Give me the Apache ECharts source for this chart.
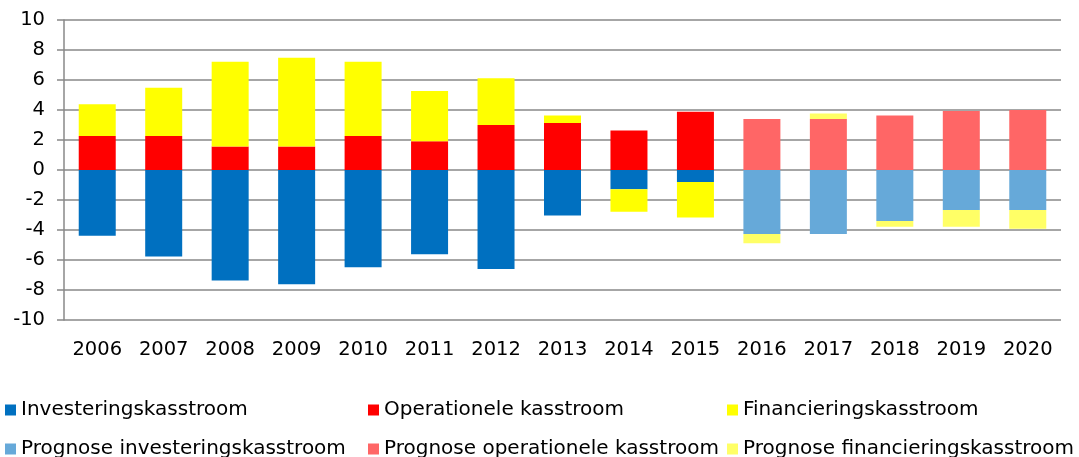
<!DOCTYPE html>
<html lang="nl">
<head>
    <meta charset="UTF-8">
    <title>Kasstromen</title>
    <style>
        html, body {margin: 0; padding: 0; background: #fff;}
        #main {width: 1079px; height: 457px;}
    </style>
</head>
<body>
<div id="main"></div>
<script src="https://cdn.jsdelivr.net/npm/echarts@6/dist/echarts.min.js"></script>
<script>
    // jaren
    let years = ['2006', '2007', '2008', '2009', '2010', '2011', '2012', '2013', '2014', '2015', '2016', '2017', '2018', '2019', '2020'];
    // gerealiseerd
    let investering = [-4.38, -5.76, -7.36, -7.62, -6.49, -5.62, -6.6, -3.04, -1.29, -0.8, null, null, null, null, null];
    let operationeel = [2.27, 2.27, 1.56, 1.56, 2.27, 1.91, 3.0, 3.13, 2.64, 3.89, null, null, null, null, null];
    let financiering = [2.11, 3.22, 5.66, 5.93, 4.95, 3.36, 3.11, 0.51, -1.49, -2.36, null, null, null, null, null];
    // prognose
    let progInvestering = [null, null, null, null, null, null, null, null, null, null, -4.27, -4.27, -3.4, -2.67, -2.67];
    let progOperationeel = [null, null, null, null, null, null, null, null, null, null, 3.4, 3.4, 3.64, 3.93, 4.0];
    let progFinanciering = [null, null, null, null, null, null, null, null, null, null, -0.62, 0.36, -0.38, -1.11, -1.24];
    let yTicks = [-10, -8, -6, -4, -2, 0, 2, 4, 6, 8, 10];

    let names = ['Investeringskasstroom', 'Operationele kasstroom', 'Financieringskasstroom',
        'Prognose investeringskasstroom', 'Prognose operationele kasstroom', 'Prognose financieringskasstroom'];
    let colors = ['#0070C0', '#FF0000', '#FFFF00', '#66A9D9', '#FF6666', '#FFFF66'];
    let values = [investering, operationeel, financiering, progInvestering, progOperationeel, progFinanciering];

    let legendFont = {fontFamily: 'DejaVu Sans', fontSize: 20, color: '#000'};
    let legendLeft = [5, 368, 727];
    let legendTop = [400, 439];

    let myChart = echarts.init(document.getElementById('main'));
    let option = {
        animation: false,
        color: colors,
        grid: {left: 64, right: 18, top: 20, height: 300},
        // elk legenda-item apart: drie kolommen, twee rijen
        legend: names.map((name, i) => ({
            left: legendLeft[i % 3],
            top: legendTop[Math.floor(i / 3)],
            icon: 'rect',
            itemWidth: 11,
            itemHeight: 11,
            itemGap: 0,
            padding: 0,
            textStyle: legendFont,
            data: [name]
        })),
        xAxis: {
            type: 'category',
            data: years,
            axisLine: {show: false},
            axisTick: {show: false},
            axisLabel: {color: '#000', fontSize: 19.5, fontFamily: 'DejaVu Sans', margin: 20}
        },
        yAxis: {
            type: 'value',
            min: yTicks[0],
            max: yTicks[yTicks.length - 1],
            interval: 2,
            axisLine: {show: true, lineStyle: {color: '#888', width: 1.5}},
            axisTick: {show: true, length: 7, lineStyle: {color: '#888', width: 1.5}},
            splitLine: {lineStyle: {color: '#888', width: 1.5}},
            axisLabel: {color: '#000', fontSize: 19.5, fontFamily: 'DejaVu Sans', margin: 19}
        },
        series: values.map((data, i) => ({
            name: names[i],
            type: 'bar',
            stack: 'kas',
            barWidth: 37,
            data: data,
            itemStyle: {color: colors[i]}
        }))
    };
    myChart.setOption(option);
</script>
</body>
</html>
